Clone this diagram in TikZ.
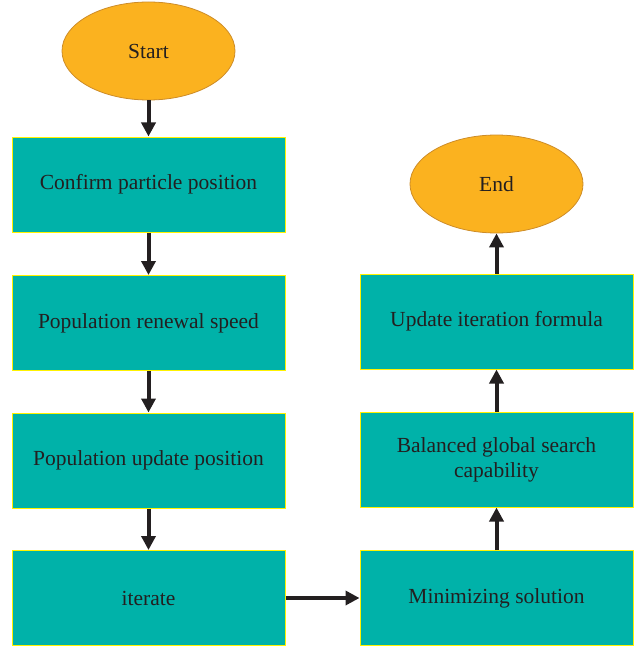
\documentclass[tikz,border=0pt]{standalone}
\usepackage{fontspec}
\setmainfont{Liberation Serif}
\usetikzlibrary{shapes.geometric,arrows.meta}
\definecolor{boxteal}{RGB}{0,178,169}
\definecolor{boxedge}{RGB}{255,242,0}
\definecolor{ovalfill}{RGB}{251,178,31}
\definecolor{ovaledge}{RGB}{205,140,40}
\definecolor{inkdark}{RGB}{35,31,32}
\tikzset{
  oval/.style={ellipse,draw=ovaledge,fill=ovalfill,line width=0.8pt,
    minimum width=173pt,minimum height=98pt,inner sep=0pt,text=inkdark},
  stepbox/.style={rectangle,draw=boxedge,fill=boxteal,line width=1pt,
    minimum width=273pt,minimum height=95pt,inner sep=0pt,align=center,text=inkdark},
  flow/.style={draw=inkdark,line width=4pt,-{Triangle[width=14pt,length=14pt]}}
}
\begin{document}
\begin{tikzpicture}[x=1pt,y=-1pt,font=\fontsize{21.5}{25}\selectfont]
      \useasboundingbox (0,0) rectangle (636,650);
      % left column
      \node[oval] (start) at (148.5,51) {Start};
      \node[stepbox] (confirm) at (148.5,184.5) {Confirm particle position};
      \node[stepbox] (speed) at (148.5,323) {Population renewal speed};
      \node[stepbox] (update) at (148.5,460.5) {Population update position};
      \node[stepbox] (iterate) at (148.5,598) {iterate};
      % right column
      \node[stepbox] (minimize) at (496.5,598) {Minimizing solution};
      \node[stepbox] (balance) at (496.5,459.5) {Balanced global search\\capability};
      \node[stepbox] (formula) at (496.5,321.5) {Update iteration formula};
      \node[oval] (end) at (496.5,184) {End};
      \begin{scope}[flow]
        \draw (start) to (confirm);
        \draw (confirm) to (speed);
        \draw (speed) to (update);
        \draw (update) to (iterate);
        \draw (iterate) to (minimize);
        \draw (minimize) to (balance);
        \draw (balance) to (formula);
        \draw (formula) to (end);
      \end{scope}
    \end{tikzpicture}
\end{document}
